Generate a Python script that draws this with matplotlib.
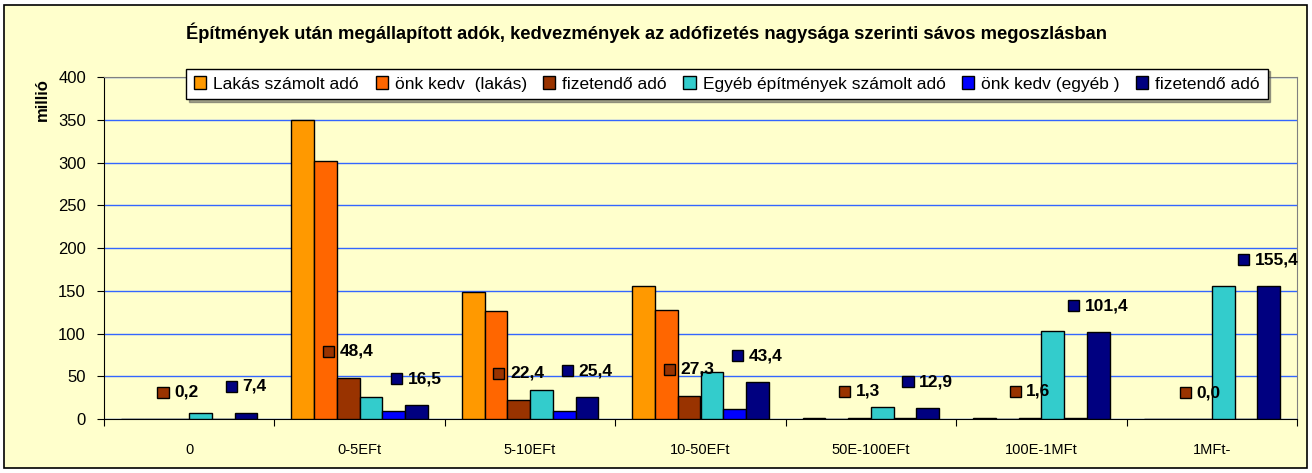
import matplotlib
matplotlib.use("Agg")
import matplotlib.pyplot as plt
import numpy as np
from matplotlib.patches import Rectangle
from matplotlib.offsetbox import AnnotationBbox, DrawingArea, HPacker, TextArea

plt.rcParams['font.family'] = ['Liberation Sans', 'DejaVu Sans']

categories = ["0", "0-5EFt", "5-10EFt", "10-50EFt", "50E-100EFt", "100E-1MFt", "1MFt-"]
series_names = ["Lakás számolt adó", "önk kedv  (lakás)", "fizetendő adó",
                "Egyéb építmények számolt adó", "önk kedv (egyéb )", "fizetendő adó"]
lakas_szamolt = [0.2, 350.0, 148.0, 155.0, 1.3, 1.6, 0.0]
lakas_kedv = [0.0, 302.0, 126.0, 128.0, 0.0, 0.0, 0.0]
lakas_fizetendo = [0.2, 48.4, 22.4, 27.3, 1.3, 1.6, 0.0]
egyeb_szamolt = [7.4, 25.5, 34.4, 55.4, 14.0, 103.0, 155.4]
egyeb_kedv = [0.0, 9.0, 9.0, 12.0, 1.1, 1.6, 0.0]
egyeb_fizetendo = [7.4, 16.5, 25.4, 43.4, 12.9, 101.4, 155.4]
colors = ["#FF9900", "#FF6600", "#993300", "#33CCCC", "#0000FF", "#000080"]
labelled = [2, 5]  # series that carry data labels

series = [lakas_szamolt, lakas_kedv, lakas_fizetendo, egyeb_szamolt, egyeb_kedv, egyeb_fizetendo]

fig = plt.figure(figsize=(13.12, 4.73), dpi=100)
fig.patch.set_facecolor("white")
fig.patches.append(Rectangle((4 / 1312, 5 / 473), 1303 / 1312, 463 / 473,
                             transform=fig.transFigure, facecolor="#FFFFCC",
                             edgecolor="black", linewidth=1.2, zorder=-10))

ax = fig.add_axes([104 / 1312, 1 - 419 / 473, 1193 / 1312, 342 / 473])
ax.set_facecolor("#FFFFCC")

x = np.arange(len(categories))
w = 1 / 7.5
handles = []
for i, (vals, col) in enumerate(zip(series, colors)):
    b = ax.bar(x + (i - 2.5) * w, vals, width=w, color=col, edgecolor="black",
               linewidth=1.0, zorder=3, label=series_names[i])
    handles.append(b)

for i in labelled:
    for xi, v in zip(x, series[i]):
        da = DrawingArea(8, 8, 0, 0)
        da.add_artist(Rectangle((0, 0), 8, 8, facecolor=colors[i], edgecolor="black", linewidth=1.0))
        ta = TextArea(f"{v:.1f}".replace(".", ","),
                      textprops=dict(fontweight="bold", fontsize=12.5, color="black"))
        pack = HPacker(children=[da, ta], align="center", pad=0, sep=4)
        ab = AnnotationBbox(pack, (xi + (i - 2.5) * w, v), xybox=(0, 19),
                            xycoords="data", boxcoords="offset points", frameon=False,
                            zorder=5)
        ax.add_artist(ab)

ax.set_xlim(-0.5, len(categories) - 0.5)
ax.set_ylim(0, 400)
ax.set_yticks(np.arange(0, 401, 50))
ax.yaxis.grid(True, color="#3366FF", linewidth=1.0, zorder=0)
ax.tick_params(axis="y", labelsize=12, direction="out", length=5, pad=8)

ax.set_xticks(np.arange(-0.5, len(categories), 1))
ax.set_xticklabels([])
ax.set_xticks(x, minor=True)
ax.set_xticklabels(categories, minor=True, fontsize=10.5)
ax.tick_params(axis="x", which="major", direction="out", length=5)
ax.tick_params(axis="x", which="minor", length=0, pad=17)

for s in ["top", "right"]:
    ax.spines[s].set_color("#808080")
ax.spines["left"].set_color("black")
ax.spines["bottom"].set_color("black")

fig.text(646 / 1312, 1 - 33 / 473,
         "Építmények után megállapított adók, kedvezmények az adófizetés nagysága szerinti sávos megoszlásban",
         ha="center", va="center", fontsize=13.2, fontweight="bold")
fig.text(42 / 1312, 1 - 100 / 473, "millió", rotation=90, ha="center", va="center",
         fontsize=12, fontweight="bold")

leg = fig.legend(handles=handles, labels=series_names, loc="center",
                 bbox_to_anchor=(727 / 1312, 1 - 84 / 473), ncol=6, fontsize=12.5,
                 frameon=True, fancybox=False, edgecolor="black", facecolor="white",
                 handlelength=0.7, handleheight=0.7, handletextpad=0.4,
                 columnspacing=0.95, borderpad=0.45, shadow=True)
leg.get_frame().set_linewidth(1.0)

fig.savefig("out.png", dpi=100)
